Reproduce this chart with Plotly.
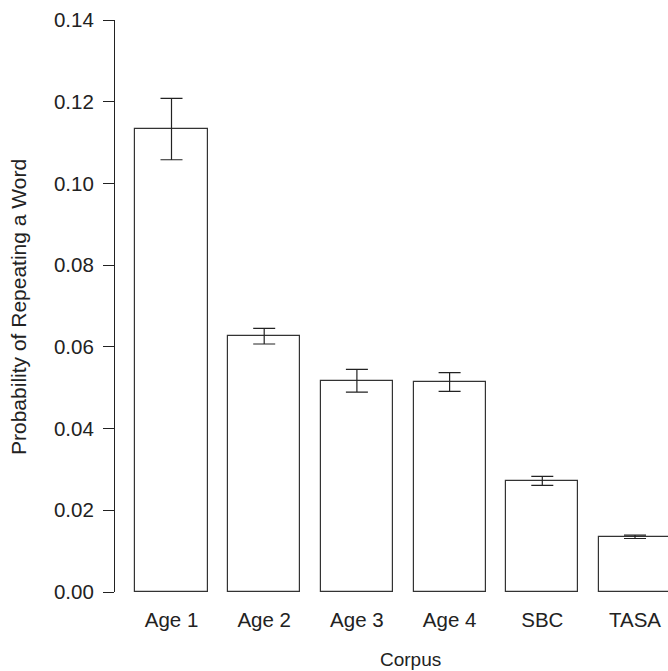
import plotly.graph_objects as go

categories = ["Age 1", "Age 2", "Age 3", "Age 4", "SBC", "TASA"]
probability = [0.1133, 0.0626, 0.0517, 0.0514, 0.0272, 0.0135]
error = [0.0075, 0.0019, 0.0028, 0.0023, 0.0011, 0.0004]
y_ticks = [0.00, 0.02, 0.04, 0.06, 0.08, 0.10, 0.12, 0.14]

W, H = 668, 671
ML, MR, MT, MB = 115, 0, 20, 79
FONT = "Liberation Sans, Arial, Helvetica, sans-serif"
INK = "#222222"

fig = go.Figure()
fig.add_trace(go.Bar(
    x=categories,
    y=probability,
    width=0.777,
    marker=dict(color="white", line=dict(color="#333333", width=1.2)),
    error_y=dict(type="data", array=error, visible=True,
                 color="#222222", thickness=1.2, width=11),
    showlegend=False,
    hoverinfo="skip",
))

fig.update_layout(
    width=W, height=H,
    margin=dict(l=ML, r=MR, t=MT, b=MB),
    paper_bgcolor="white", plot_bgcolor="white",
    font=dict(family=FONT, size=20, color=INK),
    bargap=0,
    xaxis=dict(
        type="category",
        range=[-0.6095, 5.356],
        showline=False, showgrid=False, zeroline=False,
        ticks="", ticklabelstandoff=13,
        tickfont=dict(size=20.5, color=INK),
    ),
    yaxis=dict(
        range=[0, 0.14],
        tickvals=y_ticks,
        ticktext=[f"{v:.2f}" for v in y_ticks],
        showline=True, linecolor="#222222", linewidth=1.2,
        ticks="outside", ticklen=11, tickwidth=1.2, tickcolor="#222222",
        ticklabelstandoff=5,
        showgrid=False, zeroline=False,
        tickfont=dict(size=20.5, color=INK),
    ),
    annotations=[
        dict(text="Probability of Repeating a Word", textangle=-90,
             xref="paper", yref="paper",
             x=(18 - ML) / (W - ML - MR), y=(H - MB - 307) / (H - MT - MB),
             xanchor="center", yanchor="middle", showarrow=False,
             font=dict(size=21, color=INK)),
        dict(text="Corpus",
             xref="paper", yref="paper",
             x=(410 - ML) / (W - ML - MR), y=-(659 - (H - MB)) / (H - MT - MB),
             xanchor="center", yanchor="middle", showarrow=False,
             font=dict(size=19, color=INK)),
    ],
)

fig.write_html(
    "out.html",
    config={"displayModeBar": False},
    post_script="document.body.style.margin='0';document.body.style.padding='0';document.body.style.overflow='hidden';",
)
